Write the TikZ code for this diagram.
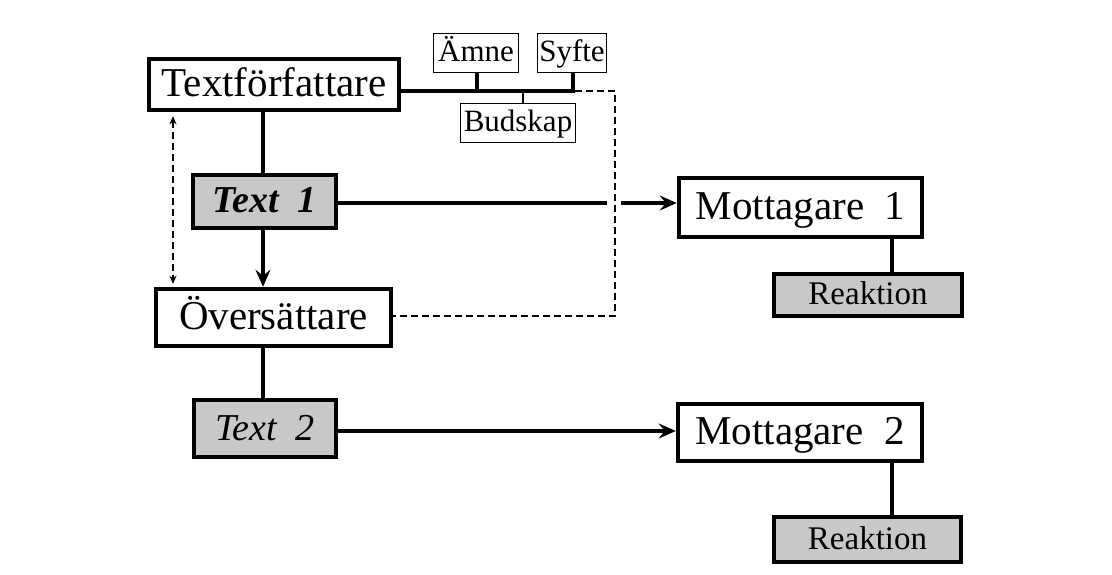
\documentclass[tikz,border=0pt]{standalone}
\usepackage{fontspec}
\setmainfont{Liberation Serif}
\usetikzlibrary{arrows.meta}
\definecolor{boxgray}{RGB}{200,200,200}
\tikzset{
  bigbox/.style={draw, line width=4.5pt, fill=white, inner sep=0pt, text height=28pt, text depth=4pt, font=\fontsize{41}{44}\selectfont},
  grbox/.style={draw, line width=4.5pt, fill=boxgray, inner sep=0pt},
  textlabel/.style={text height=26pt, text depth=3pt},
  reaklabel/.style={text height=22pt, text depth=3pt, font=\fontsize{33}{36}\selectfont},
  smallbox/.style={draw, line width=1.6pt, fill=white, inner sep=0pt, text height=21pt, text depth=3pt, font=\fontsize{31}{34}\selectfont},
  conn/.style={line width=4pt},
  dashconn/.style={line width=1.6pt, dash pattern=on 7pt off 4pt},
  bigarrow/.style={conn, -{Stealth[length=17pt,width=15pt,inset=6pt]}},
}
\begin{document}
\begin{tikzpicture}[x=1pt,y=-1pt]
\useasboundingbox[fill=white] (0,0) rectangle (1112,575);
% nodes
\node[bigbox, minimum width=250pt, minimum height=51pt] (tf) at (274,84.5) {Textförfattare};
\node[smallbox, minimum width=85pt, minimum height=39pt] (amne) at (476,53) {Ämne};
\node[smallbox, minimum width=69pt, minimum height=39pt] (syfte) at (572,53) {Syfte};
\node[smallbox, minimum width=115pt, minimum height=39pt] (bud) at (518,123) {Budskap};
\node[grbox, textlabel, minimum width=143pt, minimum height=53pt, font=\fontsize{38}{40}\selectfont\bfseries\itshape] (t1) at (264.5,201.5) {Text\ \ 1};
\node[bigbox, minimum width=235pt, minimum height=57pt] (ov) at (273.5,317.5) {Översättare};
\node[grbox, textlabel, minimum width=142pt, minimum height=57pt, font=\fontsize{38}{40}\selectfont\itshape] (t2) at (265,428.5) {Text\ \ 2};
\node[bigbox, minimum width=243pt, minimum height=59pt] (m1) at (800.5,207.5) {Mottagare\ \ 1};
\node[grbox, reaklabel, minimum width=188pt, minimum height=42pt] (r1) at (868,295) {Reaktion};
\node[bigbox, minimum width=244pt, minimum height=57pt] (m2) at (800,432.5) {Mottagare\ \ 2};
\node[grbox, reaklabel, minimum width=187pt, minimum height=45pt] (r2) at (867.5,539.5) {Reaktion};
% helper coordinates
\coordinate (busend) at (573,91);
\coordinate (dc1) at (615,91);
\coordinate (dc2) at (615,316);
\coordinate (spine) at (263,0);
\coordinate (lx) at (173,0);
\coordinate (gapL) at (607,203);
\coordinate (gapR) at (621,203);
\coordinate (a2) at (0,431);
\coordinate (rx) at (892,0);
% bus
\draw[line width=4.5pt] (tf.east |- busend) -- ([xshift=2pt]busend);
\draw[conn] (amne.south -| 477,0) -- (477,91);
\draw[conn] (syfte.south -| busend) -- (busend);
\draw[line width=2.6pt] (bud.north -| 523,0) -- (523,91);
% dashed feedback
\draw[dashconn] ([xshift=2pt]busend) -- (dc1) -- (dc2) -- (ov.east |- dc2);
% spine
\draw[conn] (tf.south -| spine) -- (t1.north -| spine);
\draw[bigarrow] (t1.south -| spine) -- (ov.north -| spine);
\draw[conn] (ov.south -| spine) -- (t2.north -| spine);
% text arrows
\draw[conn] (t1.east |- gapL) -- (gapL);
\draw[bigarrow] (gapR) -- (m1.west |- gapR);
\draw[bigarrow] (t2.east |- a2) -- (m2.west |- a2);
% reaktion stems
\draw[conn] (m1.south -| rx) -- (r1.north -| rx);
\draw[conn] (m2.south -| rx) -- (r2.north -| rx);
% dashed double arrow
\draw[line width=1.4pt, dash pattern=on 7pt off 4pt, {Stealth[length=8pt,width=7pt]}-{Stealth[length=8pt,width=7pt]}, shorten <=4pt, shorten >=3pt] (tf.south -| lx) -- (ov.north -| lx);
\end{tikzpicture}
\end{document}
